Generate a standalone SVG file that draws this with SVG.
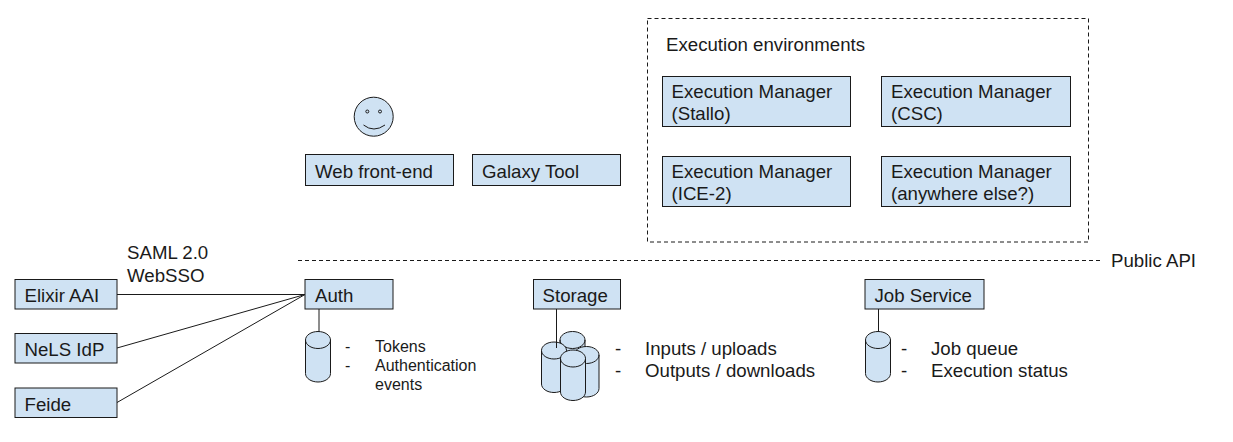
<svg xmlns="http://www.w3.org/2000/svg" width="1233" height="442" viewBox="0 0 1233 442">
<style>
text{font-family:"Liberation Sans",Arial,sans-serif;font-size:18.67px;fill:#1a1a1a}
text.s{font-size:16px}
.b{fill:#cfe2f3;stroke:#1a1a1a;stroke-width:1}
.l{fill:none;stroke:#1a1a1a;stroke-width:1}
.d{fill:none;stroke:#1a1a1a;stroke-width:1;stroke-dasharray:4 3}
</style>
<defs>
<g id="cyl"><path class="b" d="M0 8.500C0 3.800 5.600 0 12.500 0S25 3.800 25 8.500V42c0 4.700-5.600 8.500-12.500 8.500S0 46.700 0 42Z"/><path class="l" d="M0 8.500C0 13.200 5.600 17 12.500 17S25 13.200 25 8.500"/></g>
</defs>
<g id="execution-environments"><rect class="d" x="647.500" y="18.500" width="441" height="223.500"/><text x="666" y="51">Execution environments</text></g>
<g id="user"><circle class="b" cx="373.700" cy="116.700" r="19.500"/><circle class="l" cx="367.300" cy="111.500" r="1.500"/><circle class="l" cx="380" cy="111.500" r="1.500"/><path class="l" d="M363.500 125Q373.700 133 385 125"/></g>
<g id="web-front-end"><rect class="b" x="305.500" y="154.500" width="148" height="31"/><text x="315" y="177.500">Web front-end</text></g>
<g id="galaxy-tool"><rect class="b" x="472.500" y="154.500" width="148" height="31"/><text x="482" y="177.500">Galaxy Tool</text></g>
<g id="em-stallo"><rect class="b" x="662.500" y="76.500" width="188" height="50"/><text x="671.500" y="97.500">Execution Manager</text><text x="671.500" y="119.500">(Stallo)</text></g>
<g id="em-csc"><rect class="b" x="881.500" y="76.500" width="189" height="50"/><text x="891" y="97.500">Execution Manager</text><text x="891" y="119.500">(CSC)</text></g>
<g id="em-ice2"><rect class="b" x="662.500" y="156.500" width="188" height="50"/><text x="671.500" y="177.500">Execution Manager</text><text x="671.500" y="199.500">(ICE-2)</text></g>
<g id="em-else"><rect class="b" x="881.500" y="156.500" width="189" height="50"/><text x="891" y="177.500">Execution Manager</text><text x="891" y="199.500">(anywhere else?)</text></g>
<g id="public-api"><text x="1111" y="266.500">Public API</text></g>
<g id="saml"><text x="127" y="259">SAML 2.0</text><text x="127" y="281.500">WebSSO</text></g>
<g id="elixir"><rect class="b" x="15" y="279.500" width="102" height="29.500"/><text x="24.500" y="301.500">Elixir AAI</text></g>
<g id="nels"><rect class="b" x="15" y="333.500" width="102" height="29.500"/><text x="24.500" y="355.500">NeLS IdP</text></g>
<g id="feide"><rect class="b" x="15" y="388" width="102" height="29.500"/><text x="24.500" y="410.500">Feide</text></g>
<g id="auth"><rect class="b" x="305" y="279.500" width="88" height="29.500"/><text x="315" y="301.500">Auth</text></g>
<g id="auth-db"><use href="#cyl" x="305.500" y="331.500"/><text class="s" x="345" y="352">-</text><text class="s" x="375" y="352">Tokens</text><text class="s" x="345" y="371">-</text><text class="s" x="375" y="371">Authentication</text><text class="s" x="375" y="390">events</text></g>
<g id="storage"><rect class="b" x="533.500" y="279.500" width="87" height="29.500"/><text x="542.500" y="301.500">Storage</text></g>
<g id="storage-db"><use href="#cyl" x="560" y="331.500"/><use href="#cyl" x="574" y="346.500"/><use href="#cyl" x="541.500" y="342"/><use href="#cyl" x="560.500" y="350"/><text x="615" y="354.500">-</text><text x="645" y="354.500">Inputs / uploads</text><text x="615" y="376.500">-</text><text x="645" y="376.500">Outputs / downloads</text></g>
<g id="job-service"><rect class="b" x="865" y="279.500" width="119" height="29.500"/><text x="874.500" y="301.500">Job Service</text></g>
<g id="job-db"><use href="#cyl" x="865.500" y="331.500"/><text x="901" y="354.500">-</text><text x="931" y="354.500">Job queue</text><text x="901" y="376.500">-</text><text x="931" y="376.500">Execution status</text></g>
<g id="connectors">
<path class="l" d="M117 294.500H305M117 348L305 294.500M117 402.500L305 294.500M319 309V331.500M556.500 309V348M878.500 309V331.500"/>
<path class="d" d="M298 260.500H1100"/>
</g>
</svg>
